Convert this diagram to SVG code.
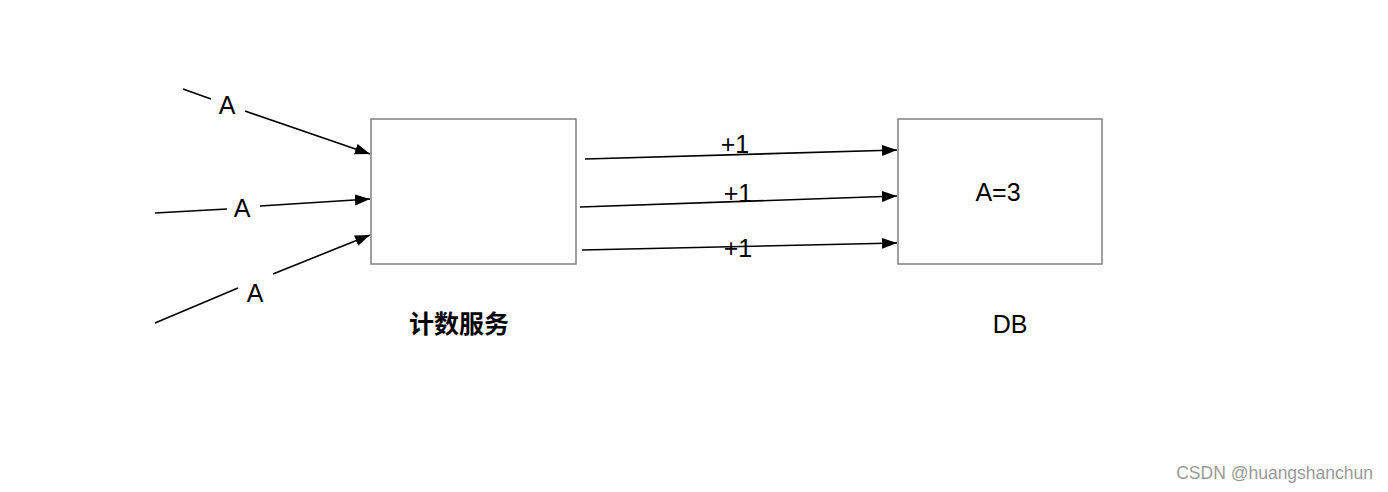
<svg xmlns="http://www.w3.org/2000/svg" width="1388" height="492" viewBox="0 0 1388 492">
  <style>
    .box { fill: #ffffff; stroke: #808080; stroke-width: 1.5; }
    .edge { fill: none; stroke: #000000; stroke-width: 1.6; marker-end: url(#arrow); }
    .lbl { font-family: "Liberation Sans", Arial, sans-serif; font-size: 25px; fill: #000000; text-anchor: middle; }
    .cap { font-family: "Liberation Sans", "Noto Sans CJK SC", sans-serif; font-size: 25px; font-weight: bold; fill: #000000; text-anchor: middle; }
    .wm { font-family: "Liberation Sans", Arial, sans-serif; font-size: 17.5px; fill: #9a9a9a; text-anchor: end; }
  </style>
  <defs>
    <marker id="arrow" markerUnits="userSpaceOnUse" markerWidth="16" markerHeight="12" refX="15" refY="5.5" orient="auto">
      <path d="M0,0 L15,5.5 L0,11 Z" fill="#000000"/>
    </marker>
  </defs>
  <rect width="1388" height="492" fill="#ffffff"/>

  <g id="node-counter">
    <rect class="box" x="371" y="119" width="205" height="145"/>
    <text class="cap" x="459" y="333">计数服务</text>
  </g>

  <g id="node-db">
    <rect class="box" x="898" y="119" width="204" height="145"/>
    <text class="lbl" x="998" y="201">A=3</text>
    <text class="lbl" x="1010" y="333">DB</text>
  </g>

  <g id="connectors">
    <path class="edge" d="M183,89 L211,99 M245,111 L370,154"/>
    <path class="edge" d="M155,213 L227,209 M260,206 L370,199"/>
    <path class="edge" d="M155,323 L238,288 M273,274 L370,235"/>
    <path class="edge" d="M585,159 L897,150"/>
    <path class="edge" d="M580,207 L897,196"/>
    <path class="edge" d="M582,250 L897,243"/>
  </g>

  <g id="labels">
    <text class="lbl" x="227" y="114">A</text>
    <text class="lbl" x="242" y="217">A</text>
    <text class="lbl" x="255" y="302">A</text>
    <text class="lbl" x="735" y="153">+1</text>
    <text class="lbl" x="738" y="202">+1</text>
    <text class="lbl" x="738" y="257">+1</text>
  </g>

  <text class="wm" x="1373" y="479">CSDN @huangshanchun</text>
</svg>
